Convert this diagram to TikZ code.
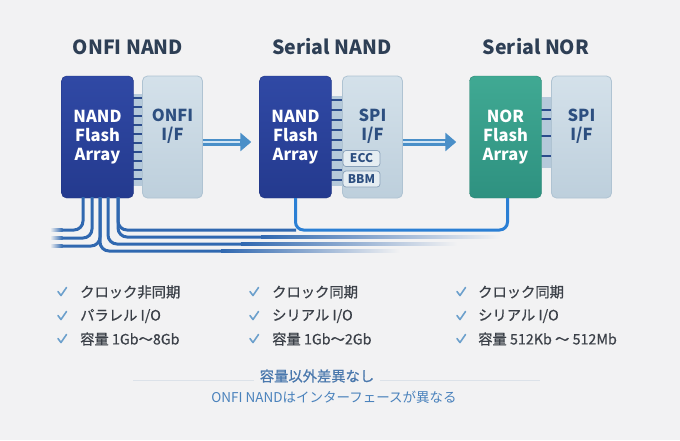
\documentclass[tikz,border=0pt]{standalone}
\usepackage{fontspec}
\setmainfont{Noto Sans CJK JP}
\newfontface\medfont{Noto Sans CJK JP}[FakeBold=0.6]
\usetikzlibrary{arrows.meta}

\definecolor{bgcol}{HTML}{F2F2F3}
\definecolor{titlecol}{HTML}{2E3F55}
\definecolor{nandtop}{HTML}{3049A5}
\definecolor{nandbot}{HTML}{243A8E}
\definecolor{nandedge}{HTML}{1F3480}
\definecolor{nortop}{HTML}{40A993}
\definecolor{norbot}{HTML}{2E9180}
\definecolor{noredge}{HTML}{2A8472}
\definecolor{iftop}{HTML}{D4E1EA}
\definecolor{ifbot}{HTML}{BDCFDC}
\definecolor{ifedge}{HTML}{AFC3D2}
\definecolor{iftextcol}{HTML}{2D4F80}
\definecolor{pincol}{HTML}{2B4C8C}
\definecolor{stripcol}{HTML}{B5C9DA}
\definecolor{arrowblue}{HTML}{4A8FC8}
\definecolor{arrowlight}{HTML}{D2E5F4}
\definecolor{busdark}{HTML}{3068B0}
\definecolor{buslight}{HTML}{A3C8E8}
\definecolor{serialbus}{HTML}{2B7FD4}
\definecolor{checkcol}{HTML}{6CA0CC}
\definecolor{bulletcol}{HTML}{3B4048}
\definecolor{notecol}{HTML}{4A78AD}
\definecolor{subnotecol}{HTML}{4A82BC}
\definecolor{dividercol}{HTML}{DCE2E9}

\tikzset{
  checkmark/.pic={\draw[checkline] (-4,-0.5) -- (-1,3.5) -- (4.5,-4.5);}
}

\begin{document}
\begin{tikzpicture}[x=1pt,y=-1pt,
    title/.style={text=titlecol, font=\bfseries\fontsize{19.5}{22}\selectfont},
    flasharr/.style={rounded corners=5pt, minimum width=72pt, minimum height=122pt,
      text=white, align=center, font=\bfseries\fontsize{16.5}{19}\selectfont},
    nandarr/.style={flasharr, draw=nandedge, top color=nandtop, bottom color=nandbot},
    norarr/.style={flasharr, draw=noredge, top color=nortop, bottom color=norbot},
    ifbox/.style={rounded corners=5pt, minimum width=60pt, minimum height=122pt,
      draw=ifedge, line width=0.8pt, top color=iftop, bottom color=ifbot},
    iftext/.style={text=iftextcol, align=center, font=\bfseries\fontsize{16.5}{19}\selectfont},
    subbox/.style={rounded corners=3pt, minimum width=37pt, minimum height=16pt, inner sep=0pt,
      draw=ifedge!70!iftextcol, line width=0.7pt, fill=iftop!60!white, text=iftextcol,
      font=\bfseries\fontsize{12}{13}\selectfont},
    strip/.style={fill=stripcol},
    pin/.style={draw=pincol, line width=2pt},
    bigarrow/.style={draw=arrowblue, line width=7pt, -{Triangle[length=11pt,width=18pt]}, shorten >=8pt},
    arrowcore/.style={draw=arrowlight, line width=2.4pt},
    onfibus/.style={draw=busdark, line width=3pt, rounded corners=9pt},
    serialline/.style={draw=serialbus, line width=3pt, rounded corners=8pt},
    checkline/.style={draw=checkcol, line width=1.6pt, line cap=round, line join=round},
    bullet/.style={anchor=west, inner sep=0pt, text=bulletcol, font=\medfont\fontsize{14.3}{16}\selectfont},
    divider/.style={draw=dividercol, line width=0.8pt},
    notetitle/.style={fill=bgcol, inner xsep=6pt, text=notecol, font=\medfont\fontsize{14.3}{16}\selectfont},
    notetext/.style={text=subnotecol, font=\fontsize{13.5}{16}\selectfont}
  ]

    % Background and frame of the picture
    \useasboundingbox (0,0) rectangle (680,440);
    \fill[bgcol] (0,0) rectangle (680,440);

    % Titles of the three columns
    \node[title] (onfititle) at (128,47) {ONFI NAND};
    \node[title] (sntitle) at (332,47) {Serial NAND};
    \node[title] (nortitle) at (536,47) {Serial NOR};

    % Connector strips behind the pins
    \fill[strip] (133,94) rectangle (143,186);
    \fill[strip] (332,96) rectangle (342,186);
    \fill[strip] (542,97) rectangle (552,168);

    % Pins between array and interface
    \foreach \y in {98,107,...,179} \draw[pin] (131,\y) -- (145,\y);
    \foreach \y in {100,110,...,180} \draw[pin] (330,\y) -- (344,\y);
    \foreach \y in {110,119,136,156} \draw[pin] (540,\y) -- (554,\y);

    % ONFI NAND: array and interface
    \node[nandarr] (onfiarr) at (97.5,137) {NAND\\Flash\\Array};
    \node[ifbox] (onfiif) at (172.5,137) {};
    \node[iftext] (onfitxt) at (172.5,126) {ONFI\\I/F};

    % Serial NAND: array, interface, ECC and BBM
    \node[nandarr] (snarr) at (295.5,137) {NAND\\Flash\\Array};
    \node[ifbox] (spiif) at (372.5,137) {};
    \node[iftext] (spitxt) at (372.5,126) {SPI\\I/F};
    \node[subbox] (ecc) at (361.5,158.5) {ECC};
    \node[subbox] (bbm) at (361.5,179) {BBM};

    % Serial NOR: array and interface
    \node[norarr] (norarr) at (505.5,137) {NOR\\Flash\\Array};
    \node[ifbox] (norif) at (581.5,137) {};
    \node[iftext] (nortxt) at (581.5,126) {SPI\\I/F};

    % Arrows from one column to the next
    \draw[bigarrow] ([yshift=-5pt]onfiif.east) -- ([yshift=-5pt]snarr.west);
    \draw[arrowcore] ([yshift=-5pt]onfiif.east) -- ([xshift=-19pt,yshift=-5pt]snarr.west);
    \draw[bigarrow, shorten >=13pt] ([yshift=-5pt]spiif.east) -- ([yshift=-5pt]norarr.west);
    \draw[arrowcore] ([yshift=-5pt]spiif.east) -- ([xshift=-24pt,yshift=-5pt]norarr.west);

    % Taps on the bottom of the ONFI NAND array
    \coordinate (tapA) at (83,197);
    \coordinate (tapB) at (92,197);
    \coordinate (tapC) at (100,197);
    \coordinate (tapD) at (108,197);
    \coordinate (tapE) at (118,197);

    % Bus lines running to the left
    \draw[onfibus] (tapA) |- (62,230);
    \draw[onfibus] (tapB) |- (62,238);
    \draw[onfibus] (tapC) |- (62,246);
    \foreach \y in {230,238,246}
      \shade[left color=bgcol, right color=busdark] (50,\y-1.5) rectangle (62.5,\y+1.5);

    % Bus lines running to the right, fading out
    \draw[onfibus] (tapE) |- (296,230);
    \draw[onfibus] (tapE) |- (262,237);
    \draw[onfibus] (tapD) |- (242,244);
    \draw[onfibus] (tapC) |- (222,251);
    \shade[left color=busdark, middle color=buslight, right color=bgcol] (261,235.5) rectangle (500,238.5);
    \shade[left color=busdark, middle color=buslight, right color=bgcol] (241,242.5) rectangle (457,245.5);
    \shade[left color=busdark, middle color=buslight, right color=bgcol] (221,249.5) rectangle (400,252.5);

    % Serial line from Serial NAND to Serial NOR
    \draw[serialline] (snarr.south) |- (400,230) -| ([xshift=2pt]norarr.south);

    % Check marks and feature lists
    \foreach \cx in {62,254,461}
      \foreach \cy in {292,316,339}
        \pic at (\cx,\cy) {checkmark};
    \node[bullet] (onficlk) at (80,292) {クロック非同期};
    \node[bullet] (onfiio) at (80,316) {パラレル I/O};
    \node[bullet] (onficap) at (80,339) {容量 1Gb～8Gb};
    \node[bullet] (snclk) at (272,292) {クロック同期};
    \node[bullet] (snio) at (272,316) {シリアル I/O};
    \node[bullet] (sncap) at (272,339) {容量 1Gb～2Gb};
    \node[bullet] (norclk) at (478,292) {クロック同期};
    \node[bullet] (norio) at (478,316) {シリアル I/O};
    \node[bullet] (norcap) at (478,339) {容量 512Kb ～ 512Mb};

    % Note at the bottom
    \draw[divider] (133,380) -- (540,380);
    \node[notetitle] (note) at (317,376) {容量以外差異なし};
    \node[notetext] (notesub) at (334,397) {ONFI NANDはインターフェースが異なる};

\end{tikzpicture}
\end{document}
